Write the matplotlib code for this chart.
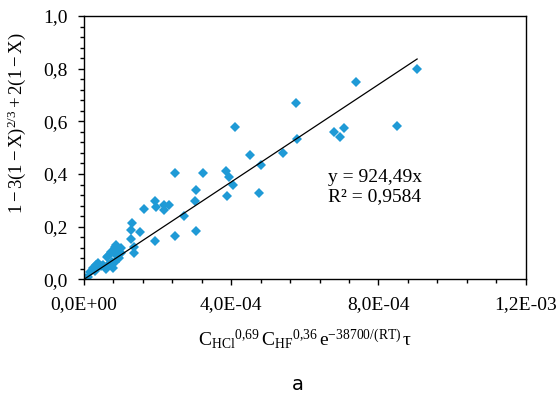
import matplotlib
matplotlib.use("Agg")
import matplotlib.pyplot as plt
from matplotlib.ticker import MultipleLocator, FuncFormatter
import numpy as np

# --- dados (x em unidades de 1e-4) ---
x_e4 = [9.05, 7.40, 5.75, 4.11, 8.50, 7.06, 6.78, 6.95, 5.79, 5.41,
        4.50, 4.80, 3.22, 3.86, 3.93, 4.06, 3.89, 4.75, 2.46, 3.05,
        3.01, 2.72, 3.03, 2.48, 1.94, 1.63, 1.92, 1.95, 2.18, 2.30,
        2.17, 1.31, 1.27, 1.53, 1.28, 1.37, 1.36, 0.87, 0.74, 0.65,
        0.33, 0.24, 0.02, 0.11, 0.15, 0.38, 0.52, 0.83, 0.88, 0.92,
        1.01, 0.83, 0.30, 0.34, 0.62, 0.66, 0.75, 0.80, 0.95, 1.00,
        0.45, 0.60, 0.00]
y_val = [0.800, 0.748, 0.669, 0.578, 0.583, 0.576, 0.561, 0.540, 0.532, 0.479,
         0.471, 0.433, 0.405, 0.413, 0.390, 0.359, 0.318, 0.327, 0.405, 0.341,
         0.297, 0.241, 0.184, 0.166, 0.146, 0.268, 0.297, 0.276, 0.284, 0.284,
         0.263, 0.213, 0.187, 0.181, 0.153, 0.122, 0.099, 0.130, 0.105, 0.089,
         0.054, 0.042, 0.004, 0.008, 0.029, 0.061, 0.054, 0.067, 0.092, 0.111,
         0.118, 0.124, 0.030, 0.043, 0.086, 0.054, 0.067, 0.042, 0.080, 0.100,
         0.050, 0.040, 0.000]
slope = 924.49
r2_text = "0,9584"

x = np.array(x_e4) * 1e-4
y = np.array(y_val)

plt.rcParams['font.family'] = ['Liberation Serif']
plt.rcParams['mathtext.fontset'] = 'custom'
plt.rcParams['mathtext.rm'] = 'Liberation Serif'
plt.rcParams['mathtext.it'] = 'Liberation Serif:italic'
plt.rcParams['mathtext.bf'] = 'Liberation Serif:bold'

W, H = 558, 397
fig = plt.figure(figsize=(W / 100, H / 100), dpi=100)
ax = fig.add_axes([84/W, 1 - 279.3/H, (525.7 - 84)/W, (279.3 - 16)/H])

ax.plot(x, y, linestyle='none', marker='D', markersize=5.4, color='#1f9ad6',
        markeredgewidth=0, zorder=2)

xl = np.array([0, x.max()])
ax.plot(xl, slope * xl, color='black', linewidth=0.9, zorder=3)

ax.set_xlim(0, 1.2e-3)
ax.set_ylim(0, 1.0)
ax.xaxis.set_major_locator(MultipleLocator(4e-4))
ax.xaxis.set_minor_locator(MultipleLocator(0.8e-4))
ax.yaxis.set_major_locator(MultipleLocator(0.2))
ax.yaxis.set_minor_locator(MultipleLocator(0.04))
ax.xaxis.set_major_formatter(FuncFormatter(lambda v, p: "{:.1E}".format(v).replace('.', ',')))
ax.yaxis.set_major_formatter(FuncFormatter(lambda v, p: "{:.1f}".format(v).replace('.', ',')))
ax.tick_params(which='major', direction='out', length=4, width=1, labelsize=14, pad=8)
ax.tick_params(which='minor', direction='out', length=3, width=1)
for s in ax.spines.values():
    s.set_linewidth(1)

ax.set_ylabel(r'$\mathrm{1 - 3(1 - X)^{2/3} + 2(1 - X)}$', fontsize=13.5)
ax.yaxis.set_label_coords((28 - 84) / 441.7, (279.3 - 123) / 263.3)
ax.set_xlabel(r'$\mathrm{C_{HCl}{}^{0{,}69}\,C_{HF}{}^{0{,}36}\,e^{-38700/(RT)}\,\tau}$',
              fontsize=14, labelpad=10)

fig.text(328/W, 1 - 177/H, 'y = 924,49x', fontsize=14, va='center')
fig.text(328/W, 1 - 197/H, 'R² = ' + r2_text, fontsize=14, va='center')

fig.text(298/W, 1 - 385/H, 'a', family='DejaVu Sans', fontsize=14,
         ha='center', va='center')

fig.savefig('out.png', dpi=100)
